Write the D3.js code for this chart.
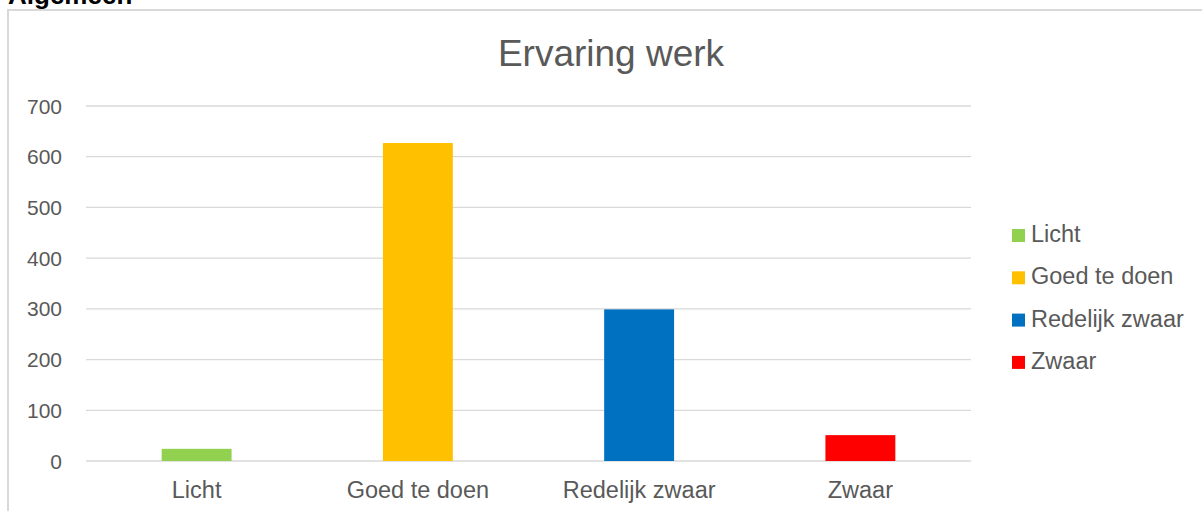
<!DOCTYPE html>
<html lang="nl">
<head>
    <meta charset="UTF-8">
    <title>Ervaring werk</title>
    <script src="https://d3js.org/d3.v7.min.js"></script>
    <style>
        body {
            margin: 0;
            background: #fff;
            font-family: "Liberation Sans", Arial, sans-serif;
        }
        svg { display: block; }
        .grid line { stroke: #d9d9d9; stroke-width: 1.3px; }
        .tick-label { fill: #595959; }
    </style>
</head>
<body>
    <svg id="chart"></svg>

    <script>
        // data
        const categories = ["Licht", "Goed te doen", "Redelijk zwaar", "Zwaar"];
        const values = [24, 627, 299, 51];
        const colors = ["#92d050", "#ffc000", "#0070c0", "#ff0000"];
        const yTicks = [0, 100, 200, 300, 400, 500, 600, 700];

        const width = 1202, height = 511;
        const svg = d3.select("#chart")
            .attr("width", width)
            .attr("height", height);

        // heading above the chart box (cut off at top)
        svg.append("text")
            .attr("x", 8)
            .attr("y", 4)
            .attr("font-size", 26)
            .attr("font-weight", "bold")
            .attr("fill", "#000")
            .text("Algemeen");

        // chart border
        svg.append("rect")
            .attr("x", 8)
            .attr("y", 10)
            .attr("width", width)
            .attr("height", height)
            .attr("fill", "#fff")
            .attr("stroke", "#d9d9d9")
            .attr("stroke-width", 2);

        const x = d3.scaleBand()
            .domain(categories)
            .range([86, 971])
            .paddingInner(0.684)
            .paddingOuter(0.342);

        const y = d3.scaleLinear()
            .domain([0, 700])
            .range([461, 106]);

        // title
        svg.append("text")
            .attr("x", 611)
            .attr("y", 66)
            .attr("text-anchor", "middle")
            .attr("font-size", 37)
            .attr("fill", "#595959")
            .text("Ervaring werk");

        // gridlines
        svg.append("g")
            .attr("class", "grid")
            .selectAll("line")
            .data(yTicks)
            .enter()
            .append("line")
            .attr("x1", 86)
            .attr("x2", 971)
            .attr("y1", d => y(d))
            .attr("y2", d => y(d));

        // y labels
        svg.append("g")
            .selectAll("text")
            .data(yTicks)
            .enter()
            .append("text")
            .attr("class", "tick-label")
            .attr("x", 62)
            .attr("y", d => y(d))
            .attr("dy", "0.36em")
            .attr("text-anchor", "end")
            .attr("font-size", 21)
            .text(d => d);

        // bars
        svg.append("g")
            .selectAll("rect")
            .data(categories)
            .enter()
            .append("rect")
            .attr("x", d => x(d))
            .attr("width", x.bandwidth())
            .attr("y", (d, i) => y(values[i]))
            .attr("height", (d, i) => y(0) - y(values[i]))
            .attr("fill", (d, i) => colors[i]);

        // x labels
        svg.append("g")
            .selectAll("text")
            .data(categories)
            .enter()
            .append("text")
            .attr("class", "tick-label")
            .attr("x", d => x(d) + x.bandwidth() / 2)
            .attr("y", 498)
            .attr("text-anchor", "middle")
            .attr("font-size", 23.5)
            .text(d => d);

        // legend
        const legend = svg.append("g")
            .selectAll("g")
            .data(categories)
            .enter()
            .append("g")
            .attr("transform", (d, i) => `translate(1012, ${242 + i * 42.3})`);

        legend.append("rect")
            .attr("x", 0)
            .attr("y", -13)
            .attr("width", 13)
            .attr("height", 13)
            .attr("fill", (d, i) => colors[i]);

        legend.append("text")
            .attr("x", 19)
            .attr("y", 0)
            .attr("font-size", 23.5)
            .attr("fill", "#595959")
            .text(d => d);
    </script>
</body>
</html>
